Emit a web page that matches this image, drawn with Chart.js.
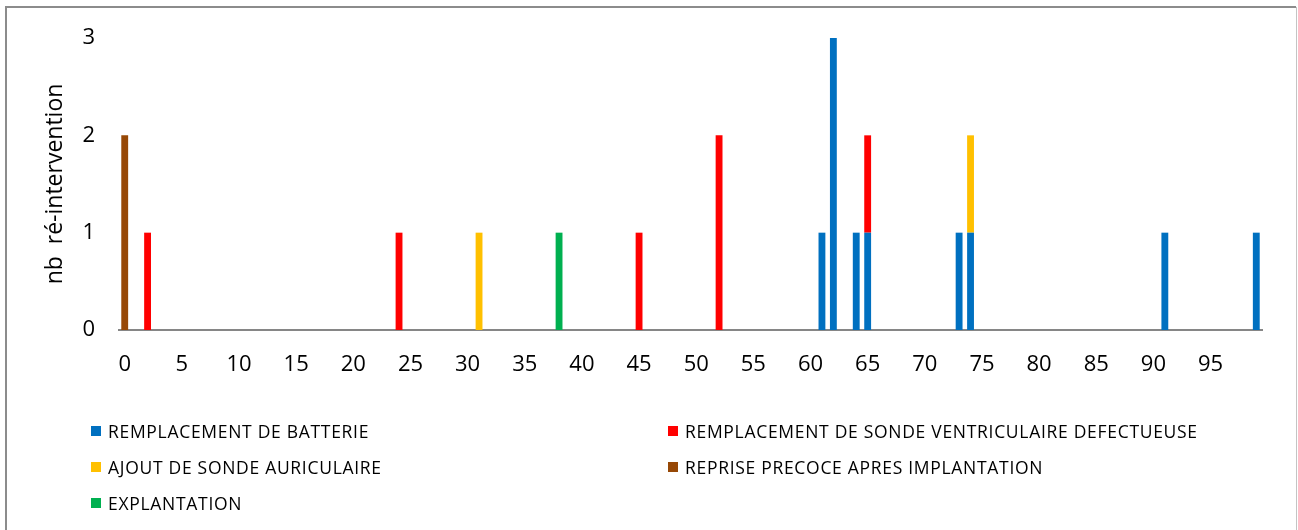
<!DOCTYPE html>
<html lang="fr">
<head>
<meta charset="utf-8">
<title>Ré-interventions</title>
<script src="https://cdn.jsdelivr.net/npm/chart.js@4/dist/chart.umd.min.js"></script>
<style>
  html, body { margin: 0; padding: 0; background: #fff; }
  #wrap { position: relative; width: 1298px; height: 530px; overflow: hidden; }
  #chart { position: absolute; left: 0; top: 0; }
  #legend {
    position: absolute; left: 91px; top: 413px;
    display: grid; grid-template-columns: 577px auto; grid-auto-rows: 36px;
    font-family: "Open Sans", sans-serif; font-size: 17.5px; letter-spacing: 0.7px; color: #000;
  }
  #legend .item { display: flex; align-items: center; white-space: nowrap; }
  #legend .box { width: 10px; height: 10px; margin-right: 7px; flex: none; }
</style>
</head>
<body>
<div id="wrap">
  <canvas id="chart" width="1298" height="530"></canvas>
  <div id="legend"></div>
</div>
<script>
// Categories along the x axis
const categories = [
  0, 1, 2, 3, 4, 5, 6, 7, 8, 9, 10, 11, 12, 13, 14, 15, 16, 17, 18, 19,
  20, 21, 22, 23, 24, 25, 26, 27, 28, 29, 30, 31, 32, 33, 34, 35, 36, 37, 38, 39,
  40, 41, 42, 43, 44, 45, 46, 47, 48, 49, 50, 51, 52, 53, 54, 55, 56, 57, 58, 59,
  60, 61, 62, 63, 64, 65, 66, 67, 68, 69, 70, 71, 72, 73, 74, 75, 76, 77, 78, 79,
  80, 81, 82, 83, 84, 85, 86, 87, 88, 89, 90, 91, 92, 93, 94, 95, 96, 97, 98, 99
];
// Labelled x ticks
const xTickLabels = [0, 5, 10, 15, 20, 25, 30, 35, 40, 45, 50, 55, 60, 65, 70, 75, 80, 85, 90, 95];
// Labelled y ticks
const yTickLabels = [0, 1, 2, 3];

// Each series: [category, count]
const remplacementBatterie = [[61, 1], [62, 3], [64, 1], [65, 1], [73, 1], [74, 1], [91, 1], [99, 1]];
const remplacementSonde = [[2, 1], [24, 1], [45, 1], [52, 2], [65, 1]];
const ajoutSondeAuriculaire = [[31, 1], [74, 1]];
const repriseprecoce = [[0, 2]];
const explantation = [[38, 1]];

const seriesNames = [
  'REMPLACEMENT DE BATTERIE',
  'REMPLACEMENT DE SONDE VENTRICULAIRE DEFECTUEUSE',
  'AJOUT DE SONDE AURICULAIRE',
  'REPRISE PRECOCE APRES IMPLANTATION',
  'EXPLANTATION'
];
const seriesColors = ['#0070C0', '#FF0000', '#FFC000', '#974806', '#00B050'];
const seriesPoints = [remplacementBatterie, remplacementSonde, ajoutSondeAuriculaire, repriseprecoce, explantation];

function toCategoryData(points) {
  const data = categories.map(() => null);
  points.forEach(([cat, count]) => { data[categories.indexOf(cat)] = count; });
  return data;
}

const datasets = seriesNames.map((name, i) => ({
  label: name,
  data: toCategoryData(seriesPoints[i]),
  backgroundColor: seriesColors[i],
  borderWidth: 0,
  categoryPercentage: 1,
  barPercentage: 0.6
}));

// Frame around the chart (left, top and right edges)
const framePlugin = {
  id: 'frame',
  beforeDraw(chart) {
    const ctx = chart.ctx;
    ctx.save();
    ctx.fillStyle = '#fff';
    ctx.fillRect(0, 0, chart.width, chart.height);
    ctx.strokeStyle = '#8c8c8c';
    ctx.lineWidth = 2;
    ctx.beginPath();
    ctx.moveTo(6, chart.height + 2);
    ctx.lineTo(6, 7);
    ctx.lineTo(1296, 7);
    ctx.stroke();
    ctx.strokeStyle = '#c4c4c4';
    ctx.lineWidth = 1;
    ctx.beginPath();
    ctx.moveTo(1296.5, 7);
    ctx.lineTo(1296.5, chart.height + 2);
    ctx.stroke();
    ctx.restore();
  }
};

const chart = new Chart(document.getElementById('chart'), {
  type: 'bar',
  data: { labels: categories, datasets },
  plugins: [framePlugin],
  options: {
    responsive: false,
    animation: false,
    devicePixelRatio: 1,
    layout: { padding: { left: 0, top: 38, right: 36, bottom: 150 } },
    plugins: { legend: { display: false }, tooltip: { enabled: false } },
    scales: {
      x: {
        stacked: true,
        grid: { display: false, drawTicks: false },
        border: { display: true, color: '#868686', width: 2 },
        ticks: {
          autoSkip: false,
          maxRotation: 0,
          padding: 22,
          color: '#000',
          font: { family: '"Open Sans", sans-serif', size: 22 },
          callback(value) {
            const cat = categories[value];
            return xTickLabels.includes(cat) ? String(cat) : '';
          }
        },
        afterFit(scale) { scale.height = 50; }
      },
      y: {
        stacked: true,
        min: 0,
        max: 3,
        grid: { display: false, drawTicks: false },
        border: { display: false },
        ticks: {
          stepSize: 1,
          padding: 24,
          color: '#000',
          font: { family: '"Open Sans", sans-serif', size: 22 },
          callback(value) { return yTickLabels.includes(value) ? String(value) : ''; }
        },
        title: {
          display: true,
          text: 'nb  ré-intervention',
          color: '#000',
          font: { family: '"Open Sans", sans-serif', size: 23 },
          padding: { top: 42, bottom: 0 }
        },
        afterFit(scale) { scale.width = 119; }
      }
    }
  }
});

// Legend in two columns, built from the chart's datasets
const legendEl = document.getElementById('legend');
chart.data.datasets.forEach(ds => {
  const item = document.createElement('div');
  item.className = 'item';
  const box = document.createElement('span');
  box.className = 'box';
  box.style.background = ds.backgroundColor;
  const text = document.createElement('span');
  text.textContent = ds.label;
  item.appendChild(box);
  item.appendChild(text);
  legendEl.appendChild(item);
});
</script>
</body>
</html>
